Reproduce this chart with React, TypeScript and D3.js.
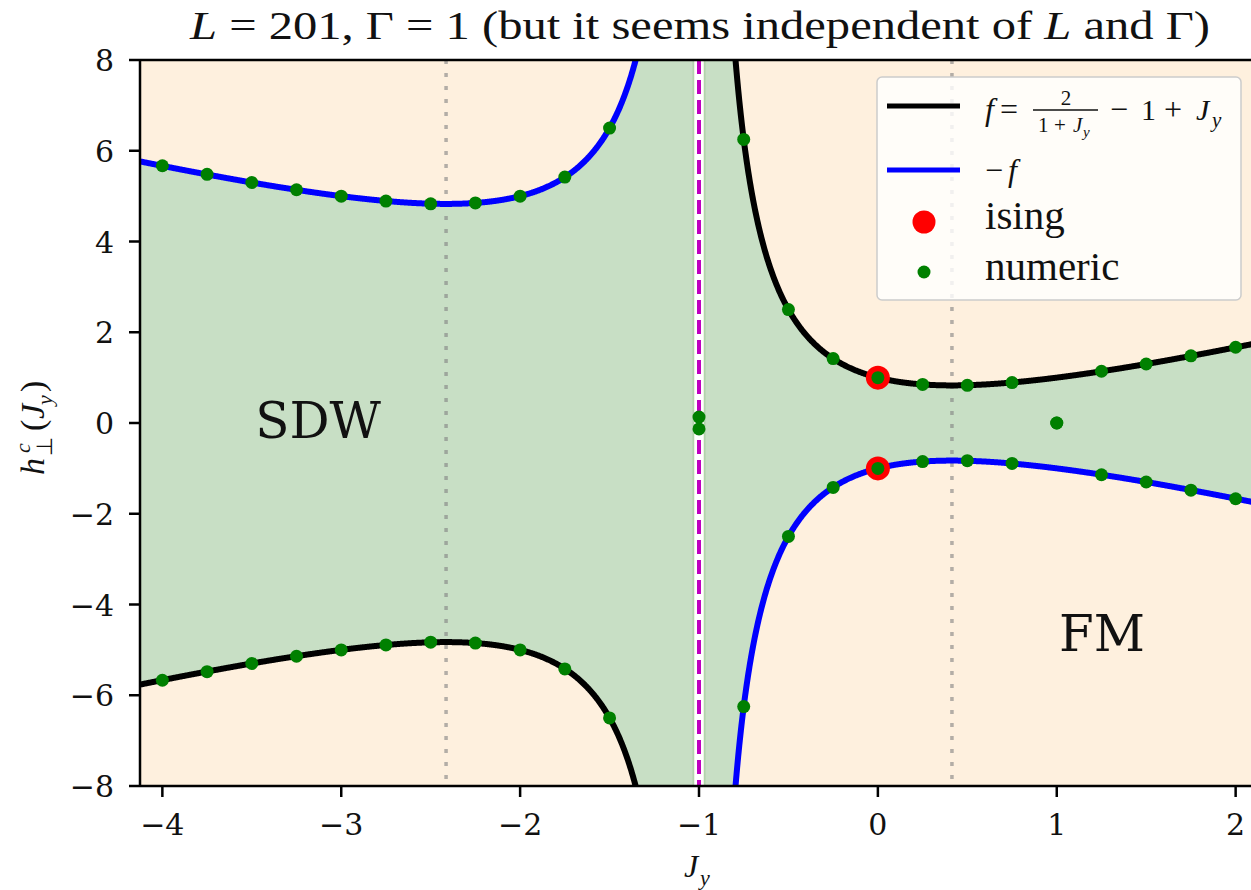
import React from 'react';
import * as d3 from 'd3';

// Axis ticks
const jTicks = [-4, -3, -2, -1, 0, 1, 2];
const hTicks = [-8, -6, -4, -2, 0, 2, 4, 6, 8];

// Numerically obtained critical fields (upper / lower branch) for each J_y
const numericJ = [-4, -3.75, -3.5, -3.25, -3, -2.75, -2.5, -2.25, -2, -1.75, -1.5, -1, -0.75, -0.5, -0.25, 0, 0.25, 0.5, 0.75, 1, 1.25, 1.5, 1.75, 2];
const numericUpper = [5.67, 5.48, 5.3, 5.14, 5.0, 4.89, 4.83, 4.85, 5.0, 5.42, 6.5, 0.13, 6.25, 2.5, 1.42, 1.0, 0.85, 0.83, 0.89, 0.0, 1.14, 1.3, 1.48, 1.67];
const numericLower = [-5.67, -5.48, -5.3, -5.14, -5.0, -4.89, -4.83, -4.85, -5.0, -5.42, -6.5, -0.13, -6.25, -2.5, -1.42, -1.0, -0.85, -0.83, -0.89, 0.0, -1.14, -1.3, -1.48, -1.67];

// Exact Ising points
const isingJ = [0, 0];
const isingH = [1, -1];

// Extrema of f (J_y = -1 ± sqrt 2) and the pole at J_y = -1
const extremaJ = [-2.414, 0.414];
const poleJ = -1;
const poleGap = 0.031;

const W = 1251;
const H = 890;
const PLOT = { left: 140, right: 1258, top: 60, bottom: 786 };

const f = (j: number) => 2 / (1 + j) - 1 + j;

const serif = 'Liberation Serif, Times New Roman, Times, serif';
const dvSerif = 'DejaVu Serif, serif';

const BG = '#fef0de';
const GREEN_FILL = '#c8dfc5';

function sample(a: number, b: number, step: number) {
  const r = d3.range(a, b, step);
  r.push(b);
  return r;
}

export default function App() {
  const x = d3.scaleLinear().domain([-4.125, 2.125]).range([PLOT.left, PLOT.right]);
  const y = d3.scaleLinear().domain([-8, 8]).range([PLOT.bottom, PLOT.top]);
  const clampH = (v: number) => Math.max(-9, Math.min(9, v));

  const leftFillJ = sample(-4.3, poleJ - poleGap, 0.003);
  const rightFillJ = sample(poleJ + poleGap, 2.3, 0.003);
  const leftLineJ = sample(-4.3, -1.3, 0.003);
  const rightLineJ = sample(-0.82, 2.3, 0.003);

  const area = d3
    .area<number>()
    .x((j) => x(j))
    .y0((j) => y(clampH(-Math.abs(f(j)))))
    .y1((j) => y(clampH(Math.abs(f(j)))));

  const lineF = d3
    .line<number>()
    .x((j) => x(j))
    .y((j) => y(clampH(f(j))));
  const lineNegF = d3
    .line<number>()
    .x((j) => x(j))
    .y((j) => y(clampH(-f(j))));

  const plotW = PLOT.right - PLOT.left;
  const plotH = PLOT.bottom - PLOT.top;

  return (
    <svg
      width={W}
      height={H}
      style={{ position: 'absolute', left: 0, top: 0, background: '#fff' }}
    >
      <defs>
        <clipPath id="plot-clip">
          <rect x={PLOT.left} y={PLOT.top} width={plotW} height={plotH} />
        </clipPath>
      </defs>

      {/* Title */}
      <text
        x={190}
        y={39}
        fontFamily={serif}
        fontSize={40}
        textLength={1020}
        lengthAdjust="spacingAndGlyphs"
        fill="#111"
      >
        <tspan fontStyle="italic">L</tspan>
        <tspan> = 201, </tspan>
        <tspan>Γ = 1 (but it seems independent of </tspan>
        <tspan fontStyle="italic">L</tspan>
        <tspan> and Γ)</tspan>
      </text>

      <g clipPath="url(#plot-clip)">
        {/* Phase regions */}
        <rect x={PLOT.left} y={PLOT.top} width={plotW} height={plotH} fill={BG} />
        <path d={area(leftFillJ) ?? ''} fill={GREEN_FILL} />
        <path d={area(rightFillJ) ?? ''} fill={GREEN_FILL} />
        <line
          x1={x(poleJ - poleGap)}
          x2={x(poleJ - poleGap)}
          y1={PLOT.top}
          y2={PLOT.bottom}
          stroke="#b2d3ad"
          strokeWidth={2}
        />
        <line
          x1={x(poleJ + poleGap)}
          x2={x(poleJ + poleGap)}
          y1={PLOT.top}
          y2={PLOT.bottom}
          stroke="#b2d3ad"
          strokeWidth={2}
        />
        <rect
          x={x(poleJ - poleGap) + 1}
          y={PLOT.top}
          width={x(poleJ + poleGap) - x(poleJ - poleGap) - 2}
          height={plotH}
          fill="#ffffff"
        />

        {/* Extrema of f */}
        {extremaJ.map((j) => (
          <line
            key={j}
            x1={x(j)}
            x2={x(j)}
            y1={PLOT.top}
            y2={PLOT.bottom}
            stroke="#808080"
            strokeOpacity={0.6}
            strokeWidth={3.5}
            strokeDasharray="4 9"
          />
        ))}

        {/* Pole */}
        <line
          x1={x(poleJ)}
          x2={x(poleJ)}
          y1={PLOT.top}
          y2={PLOT.bottom}
          stroke="#bf00bf"
          strokeWidth={4}
          strokeDasharray="14 6"
        />

        {/* Analytic boundaries */}
        <path d={lineF(leftLineJ) ?? ''} fill="none" stroke="#000" strokeWidth={6} />
        <path d={lineF(rightLineJ) ?? ''} fill="none" stroke="#000" strokeWidth={6} />
        <path d={lineNegF(leftLineJ) ?? ''} fill="none" stroke="#0000ff" strokeWidth={6} />
        <path d={lineNegF(rightLineJ) ?? ''} fill="none" stroke="#0000ff" strokeWidth={6} />

        {/* Ising points */}
        {isingJ.map((j, i) => (
          <circle key={'is' + i} cx={x(j)} cy={y(isingH[i])} r={12} fill="#ff0000" />
        ))}

        {/* Numeric points */}
        {numericJ.map((j, i) => (
          <g key={'nm' + i}>
            <circle cx={x(j)} cy={y(numericUpper[i])} r={6.5} fill="#008000" />
            <circle cx={x(j)} cy={y(numericLower[i])} r={6.5} fill="#008000" />
          </g>
        ))}

        {/* Phase labels */}
        <text x={318} y={438} textAnchor="middle" fontFamily={dvSerif} fontSize={50} fill="#111">
          SDW
        </text>
        <text x={1102} y={651} textAnchor="middle" fontFamily={dvSerif} fontSize={50} fill="#111">
          FM
        </text>
      </g>

      {/* Spines */}
      <line x1={PLOT.left} x2={PLOT.left} y1={PLOT.top} y2={PLOT.bottom} stroke="#000" strokeWidth={2.5} />
      <line x1={PLOT.left} x2={PLOT.right} y1={PLOT.bottom} y2={PLOT.bottom} stroke="#000" strokeWidth={2.5} />
      <line x1={PLOT.left} x2={PLOT.right} y1={PLOT.top} y2={PLOT.top} stroke="#000" strokeWidth={2.5} />

      {/* X axis */}
      {jTicks.map((t) => (
        <g key={'xt' + t}>
          <line x1={x(t)} x2={x(t)} y1={PLOT.bottom} y2={PLOT.bottom + 11} stroke="#000" strokeWidth={2.5} />
          <text
            x={x(t)}
            y={835}
            textAnchor="middle"
            fontFamily={dvSerif}
            fontSize={30}
            fill="#111"
          >
            {t < 0 ? '\u2212' + Math.abs(t) : String(t)}
          </text>
        </g>
      ))}

      {/* Y axis */}
      {hTicks.map((t) => (
        <g key={'yt' + t}>
          <line x1={PLOT.left - 11} x2={PLOT.left} y1={y(t)} y2={y(t)} stroke="#000" strokeWidth={2.5} />
          <text
            x={114}
            y={y(t) + 11}
            textAnchor="end"
            fontFamily={dvSerif}
            fontSize={30}
            fill="#111"
          >
            {t < 0 ? '\u2212' + Math.abs(t) : String(t)}
          </text>
        </g>
      ))}

      {/* X label */}
      <text x={684} y={877} fontFamily={serif} fontStyle="italic" fontSize={32} fill="#111">
        J
      </text>
      <text x={700} y={885} fontFamily={serif} fontStyle="italic" fontSize={22} fill="#111">
        y
      </text>

      {/* Y label */}
      <g transform="translate(44, 423) rotate(-90)" fontFamily={serif} fill="#111">
        <text x={-52} y={0} fontStyle="italic" fontSize={34}>
          h
        </text>
        <text x={-33} y={8} fontSize={22}>
          ⊥
        </text>
        <text x={-30} y={-14} fontStyle="italic" fontSize={22}>
          c
        </text>
        <text x={-8} y={0} fontSize={34}>
          (
        </text>
        <text x={4} y={0} fontStyle="italic" fontSize={34}>
          J
        </text>
        <text x={18} y={8} fontStyle="italic" fontSize={22}>
          y
        </text>
        <text x={31} y={0} fontSize={34}>
          )
        </text>
      </g>

      {/* Legend */}
      <g>
        <rect
          x={877}
          y={77}
          width={364}
          height={223}
          rx={5}
          fill="#ffffff"
          fillOpacity={0.82}
          stroke="#cccccc"
          strokeWidth={1.5}
        />
        <line x1={887} x2={960} y1={106} y2={106} stroke="#000" strokeWidth={5} />
        <line x1={887} x2={960} y1={170} y2={170} stroke="#0000ff" strokeWidth={5} />
        <circle cx={924} cy={222} r={11.5} fill="#ff0000" />
        <circle cx={924} cy={272} r={6.5} fill="#008000" />

        <g fontFamily={serif} fill="#111">
          {/* f = 2/(1+J_y) - 1 + J_y */}
          <text x={985} y={120} fontStyle="italic" fontSize={32}>
            f
          </text>
          <text x={1000} y={120} fontSize={32}>
            =
          </text>
          <text x={1066} y={105} textAnchor="middle" fontSize={21}>
            2
          </text>
          <line x1={1033} x2={1098} y1={110} y2={110} stroke="#111" strokeWidth={1.4} />
          <text x={1038} y={132} fontSize={21}>
            1
          </text>
          <text x={1054} y={132} fontSize={21}>
            +
          </text>
          <text x={1073} y={132} fontStyle="italic" fontSize={21}>
            J
          </text>
          <text x={1083} y={137} fontStyle="italic" fontSize={15}>
            y
          </text>
          <text x={1110} y={120} fontSize={32}>
            −
          </text>
          <text x={1141} y={120} fontSize={30}>
            1
          </text>
          <text x={1164} y={120} fontSize={32}>
            +
          </text>
          <text x={1196} y={120} fontStyle="italic" fontSize={30}>
            J
          </text>
          <text x={1212} y={127} fontStyle="italic" fontSize={21}>
            y
          </text>

          {/* -f */}
          <text x={985} y={181} fontSize={32}>
            −
          </text>
          <text x={1008} y={181} fontStyle="italic" fontSize={32}>
            f
          </text>

          <text x={985} y={229} fontSize={41}>
            ising
          </text>
          <text x={985} y={280} fontSize={41}>
            numeric
          </text>
        </g>
      </g>
    </svg>
  );
}
